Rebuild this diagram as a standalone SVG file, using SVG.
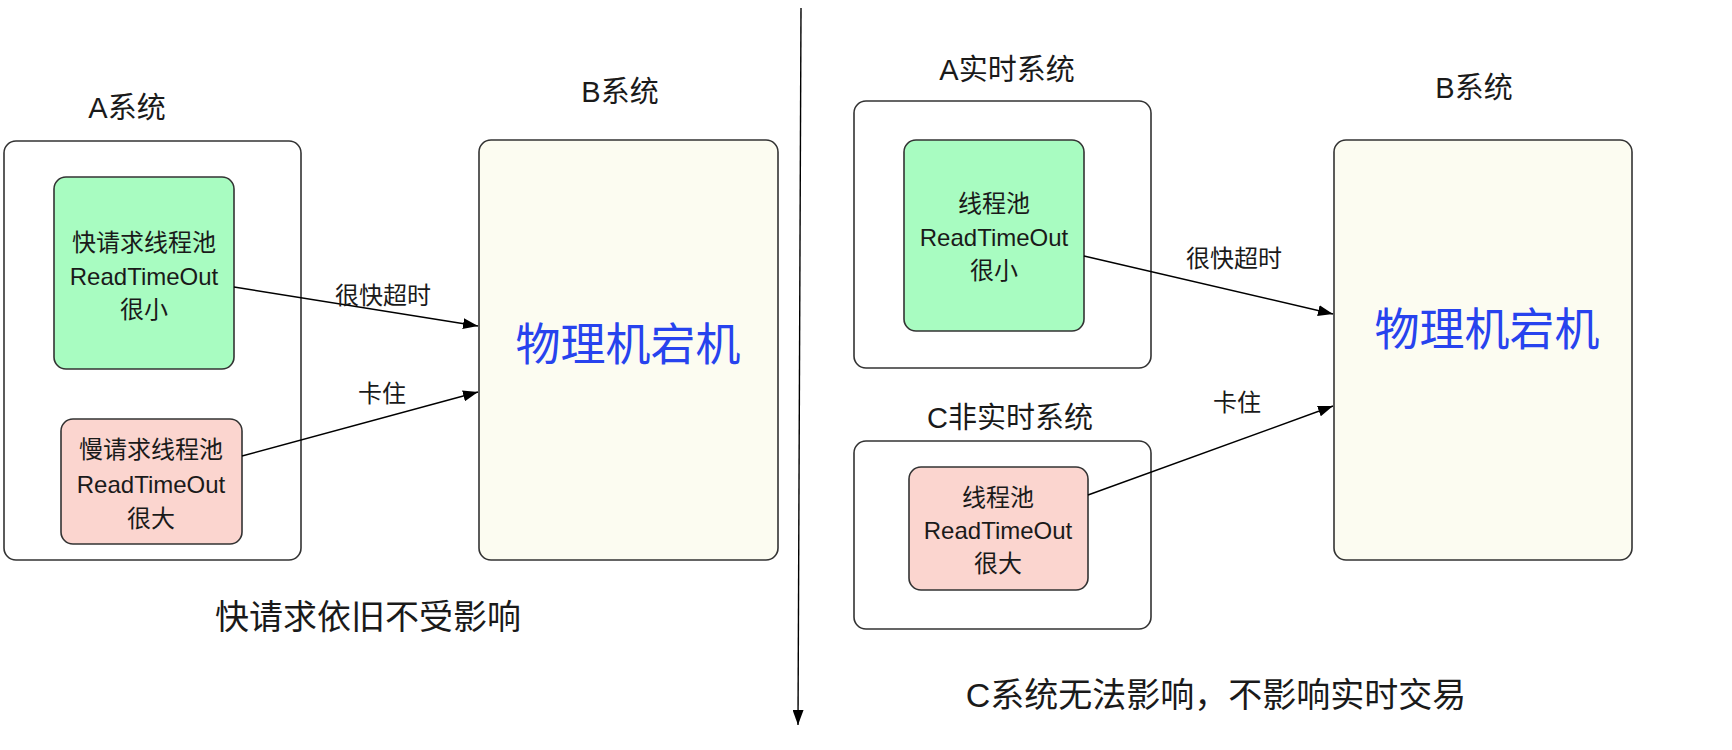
<svg xmlns="http://www.w3.org/2000/svg" width="1732" height="750" viewBox="0 0 1732 750">
<style>
text{font-family:"Liberation Sans","Noto Sans CJK SC",sans-serif;fill:#1a1a1a;text-anchor:middle;dominant-baseline:central}
.sys{fill:#ffffff;stroke:#333333;stroke-width:1.6}
.fast{fill:#a8fcc1;stroke:#333333;stroke-width:1.6}
.slow{fill:#fbd5cf;stroke:#333333;stroke-width:1.6}
.phy{fill:#fcfcf1;stroke:#333333;stroke-width:1.6}
.t29{font-size:29px}
.t24{font-size:24px}
.t34{font-size:34px}
.big{font-size:45px;fill:#2743ee}
.edge{fill:none;stroke:#000000;stroke-width:1.4}
</style>
<defs>
<marker id="arr" markerUnits="userSpaceOnUse" markerWidth="16" markerHeight="11" refX="15" refY="5.5" orient="auto">
<path d="M0,0 L15,5.5 L0,11 z" fill="#000000"/>
</marker>
</defs>

<g id="title-a"><text class="t29" x="127" y="108">A系统</text></g>
<g id="title-b-left"><text class="t29" x="620" y="92">B系统</text></g>
<g id="title-a-rt"><text class="t29" x="1007" y="70">A实时系统</text></g>
<g id="title-c"><text class="t29" x="1010" y="418">C非实时系统</text></g>
<g id="title-b-right"><text class="t29" x="1474" y="88">B系统</text></g>

<g id="sys-a"><rect class="sys" x="4" y="141" width="297" height="419" rx="12"/></g>
<g id="pool-fast">
<rect class="fast" x="54" y="177" width="180" height="192" rx="12"/>
<text class="t24" x="144" y="242">快请求线程池</text>
<text class="t24" x="144" y="276">ReadTimeOut</text>
<text class="t24" x="144" y="309">很小</text>
</g>
<g id="pool-slow">
<rect class="slow" x="61" y="419" width="181" height="125" rx="12"/>
<text class="t24" x="151" y="449">慢请求线程池</text>
<text class="t24" x="151" y="484">ReadTimeOut</text>
<text class="t24" x="151" y="518">很大</text>
</g>
<g id="b-left">
<rect class="phy" x="479" y="140" width="299" height="420" rx="12"/>
<text class="big" x="628" y="345">物理机宕机</text>
</g>

<g id="sys-a-rt"><rect class="sys" x="854" y="101" width="297" height="267" rx="12"/></g>
<g id="pool-rt">
<rect class="fast" x="904" y="140" width="180" height="191" rx="12"/>
<text class="t24" x="994" y="203">线程池</text>
<text class="t24" x="994" y="237">ReadTimeOut</text>
<text class="t24" x="994" y="270">很小</text>
</g>
<g id="sys-c"><rect class="sys" x="854" y="441" width="297" height="188" rx="12"/></g>
<g id="pool-c">
<rect class="slow" x="909" y="467" width="179" height="123" rx="12"/>
<text class="t24" x="998" y="497">线程池</text>
<text class="t24" x="998" y="530">ReadTimeOut</text>
<text class="t24" x="998" y="563">很大</text>
</g>
<g id="b-right">
<rect class="phy" x="1334" y="140" width="298" height="420" rx="12"/>
<text class="big" x="1487" y="330">物理机宕机</text>
</g>

<g id="connectors">
<line class="edge" x1="234" y1="287" x2="478" y2="326" marker-end="url(#arr)"/>
<line class="edge" x1="242" y1="456" x2="478" y2="392" marker-end="url(#arr)"/>
<line class="edge" x1="1084" y1="256" x2="1333" y2="314" marker-end="url(#arr)"/>
<line class="edge" x1="1088" y1="495" x2="1333" y2="406" marker-end="url(#arr)"/>
<line class="edge" x1="801" y1="8" x2="798" y2="725" marker-end="url(#arr)"/>
<text class="t24" x="383" y="295">很快超时</text>
<text class="t24" x="382" y="393">卡住</text>
<text class="t24" x="1234" y="258">很快超时</text>
<text class="t24" x="1237" y="402">卡住</text>
</g>

<g id="note-left"><text class="t34" x="368" y="617">快请求依旧不受影响</text></g>
<g id="note-right"><text class="t34" x="1216" y="695">C系统无法影响，不影响实时交易</text></g>
</svg>
